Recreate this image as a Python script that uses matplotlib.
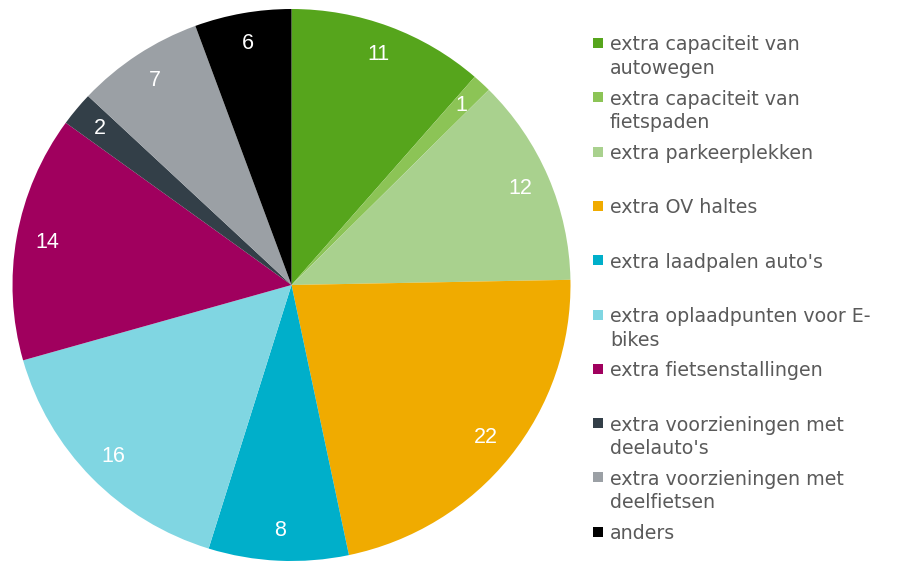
import matplotlib
matplotlib.use("Agg")
import matplotlib.pyplot as plt

categories = [
    "extra capaciteit van\nautowegen",
    "extra capaciteit van\nfietspaden",
    "extra parkeerplekken",
    "extra OV haltes",
    "extra laadpalen auto's",
    "extra oplaadpunten voor E-\nbikes",
    "extra fietsenstallingen",
    "extra voorzieningen met\ndeelauto's",
    "extra voorzieningen met\ndeelfietsen",
    "anders",
]
values = [11.4, 1.1, 12.2, 22.0, 8.1, 15.8, 14.4, 2.0, 7.4, 5.6]
value_labels = ["11", "1", "12", "22", "8", "16", "14", "2", "7", "6"]
colors = ["#56a51c", "#8cc456", "#a9d18e", "#f0ab00", "#00afca",
          "#80d6e2", "#a0005e", "#333f48", "#9ba0a5", "#000000"]

W, H = 899, 561
fig = plt.figure(figsize=(W / 100, H / 100), dpi=100)
cx, cy, RX, RY = 291.5, 285, 279, 276
ax = fig.add_axes([(cx - RX) / W, (H - cy - RY) / H, 2 * RX / W, 2 * RY / H])
wedges, texts = ax.pie(values, colors=colors, startangle=90, counterclock=False,
                       labels=value_labels, labeldistance=0.89,
                       textprops=dict(color="white", fontsize=15.5,
                                      family="Liberation Sans"),
                       wedgeprops=dict(linewidth=0))
for t in texts:
    t.set_ha("center")
    t.set_va("center")
ax.set_xlim(-1, 1)
ax.set_ylim(-1, 1)
ax.set_aspect("auto")
ax.axis("off")

# manual legend
y0, step = 43, 54.3
for i, (lab, col) in enumerate(zip(categories, colors)):
    y = y0 + step * i
    fig.patches.append(plt.Rectangle((593 / W, (H - y - 5) / H), 10 / W, 10 / H,
                                     transform=fig.transFigure, facecolor=col,
                                     edgecolor="none"))
    for j, ln in enumerate(lab.split("\n")):
        fig.text(610 / W, (H - y - 23.5 * j) / H, ln, fontsize=13.7,
                 color="#5a5a5a", ha="left", va="center_baseline")

fig.savefig("out.png", dpi=100)
